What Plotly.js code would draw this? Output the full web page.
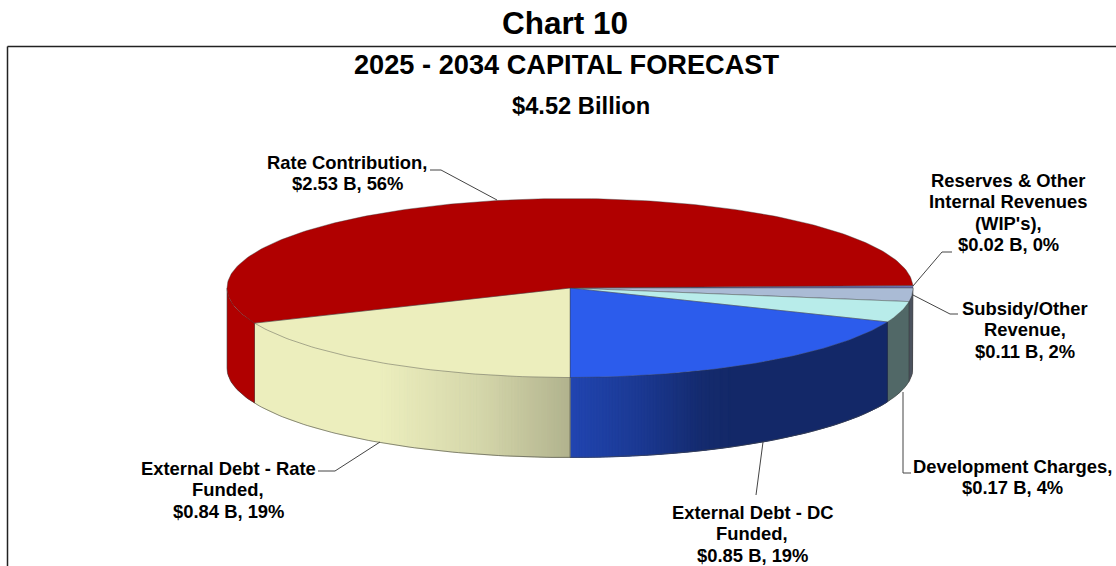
<!DOCTYPE html>
<html>
<head>
<meta charset="utf-8">
<script src="https://cdn.plot.ly/plotly-3.0.1.min.js"></script>
<style>html,body{margin:0;padding:0;background:#fff}#chart{width:1116px;height:566px}</style>
</head>
<body>
<div id="chart"></div>
<script>
// ---- data, clockwise from 3 o'clock ----
const categories = ["Reserves & Other Internal Revenues (WIP's)", "Subsidy/Other Revenue", "Development Charges", "External Debt - DC Funded", "External Debt - Rate Funded", "Rate Contribution"];
const valuesB = [0.02, 0.11, 0.17, 0.85, 0.84, 2.53];
const percentLabels = ["0%", "2%", "4%", "19%", "19%", "56%"];
const sliceColors = ["#6f74b8", "#aabbd5", "#b8ecea", "#2c5cec", "#eceebd", "#b00000"];

// ---- labels and leader lines (pixel layout) ----
const labelLines = [
  ["Reserves & Other", "Internal Revenues", "(WIP's),"],
  ["Subsidy/Other", "Revenue,"],
  ["Development Charges,"],
  ["External Debt - DC", "Funded,"],
  ["External Debt - Rate", "Funded,"],
  ["Rate Contribution,"]
];
const labelX = [1008, 1025, 1012.5, 752, 228, 347];
const labelY = [180, 308, 466, 512, 468, 162];
const leaderX = [[952,942,913],[958,950,913],[911,903,903],[756,763],[318,335,380],[430,441,497]];
const leaderY = [[252,252,286],[314,314,295],[473,473,392],[495,442],[471,471,442],[170,170,200]];

// ---- pie geometry ----
const CX = 570, CY = 288, RX = 343, RY = 89.5, DEPTH = 80, START = -1.6;
const shadeX = [0, 380, 480, 570, 640, 700, 730, 1200];
const shadeF = [1, 1, 0.9, 0.75, 0.62, 0.47, 0.44, 0.44];
const LINE_H = 21.6;

const rad = d => d * Math.PI / 180;
const px = t => CX + RX * Math.cos(rad(t));
const py = t => CY + RY * Math.sin(rad(t));
function shade(x) {
  for (let i = 1; i < shadeX.length; i++) {
    if (x <= shadeX[i]) {
      const k = (x - shadeX[i-1]) / (shadeX[i] - shadeX[i-1]);
      return shadeF[i-1] + k * (shadeF[i] - shadeF[i-1]);
    }
  }
  return 1;
}
function tint(hex, f) {
  const c = [1,3,5].map(i => Math.round(parseInt(hex.substr(i,2),16) * f));
  return `rgb(${c[0]},${c[1]},${c[2]})`;
}

const total = valuesB.reduce((a,b) => a+b, 0);
let cursor = START;
const spans = valuesB.map(v => { const a = cursor; cursor += v / total * 360; return [a, cursor]; });

const traces = [];
const base = {type:'scatter', mode:'lines', hoverinfo:'skip', showlegend:false};

function wallPath(t0, t1) {
  const n = Math.max(1, Math.ceil((t1 - t0) / 1));
  const ts = []; for (let k = 0; k <= n; k++) ts.push(t0 + (t1-t0)*k/n);
  const rev = ts.slice().reverse();
  return {
    x: ts.map(px).concat(rev.map(px), [px(t0)]),
    y: ts.map(py).concat(rev.map(t => py(t)+DEPTH), [py(t0)])
  };
}
function pushWall(t0, t1, col, w) {
  const p = wallPath(t0, t1);
  traces.push(Object.assign({}, base, p, {fill:'toself', fillcolor:col, line:{color:col, width:w}}));
}

// front walls: a base polygon, then merged strips of equal shade
spans.forEach((s, i) => {
  const a = Math.max(s[0], 0), b = Math.min(s[1], 180);
  if (b <= a) return;
  const n = Math.ceil((b - a) / 0.5);
  const runs = [];
  for (let k = 0; k < n; k++) {
    const t0 = a + (b-a)*k/n, t1 = a + (b-a)*(k+1)/n;
    const col = tint(sliceColors[i], shade((px(t0)+px(t1))/2));
    const last = runs[runs.length-1];
    if (last && last.col === col) last.t1 = t1; else runs.push({t0, t1, col});
  }
  pushWall(a, b, runs[Math.floor(runs.length/2)].col, 0);
  runs.forEach(r => pushWall(r.t0, r.t1, r.col, runs.length > 1 ? 0.9 : 0));
});
// seams at the slice boundaries on the wall
spans.forEach(s => {
  const a = s[0];
  if (a <= 0 || a >= 180) return;
  traces.push(Object.assign({}, base, {
    x:[px(a),px(a)], y:[py(a),py(a)+DEPTH], line:{color:'rgba(50,50,50,0.5)',width:1}
  }));
});
// bottom rim and silhouette
const rimT = []; for (let t = 0; t <= 180; t += 1) rimT.push(t);
traces.push(Object.assign({}, base, {
  x:[px(0)].concat(rimT.map(px), [px(180)]),
  y:[py(0)].concat(rimT.map(t => py(t)+DEPTH), [py(180)]),
  line:{color:'rgba(70,70,70,0.6)',width:1}
}));
// top slices
spans.forEach((s, i) => {
  const xs = [CX], ys = [CY];
  const n = Math.max(2, Math.ceil((s[1]-s[0])));
  for (let k = 0; k <= n; k++) { const t = s[0] + (s[1]-s[0])*k/n; xs.push(px(t)); ys.push(py(t)); }
  xs.push(CX); ys.push(CY);
  traces.push(Object.assign({}, base, {
    name:categories[i], x:xs, y:ys, fill:'toself', fillcolor:sliceColors[i],
    line:{color:'rgba(60,60,60,0.5)',width:0.8}
  }));
});
// leader lines
leaderX.forEach((lx, i) => traces.push(Object.assign({}, base, {
  x:lx, y:leaderY[i], line:{color:'#444',width:1}
})));

// text
const FONT = '"Liberation Sans", Arial, sans-serif';
const annotations = [];
const put = (x, y, text, size) => annotations.push({
  xref:'x', yref:'y', x, y, text:'<b>'+text+'</b>', showarrow:false,
  xanchor:'center', yanchor:'middle', font:{family:FONT, size, color:'#000'}
});
put(566.5, 64, '2025 - 2034 CAPITAL FORECAST', 27.2);
put(581, 106, '$4.52 Billion', 23.7);
labelLines.forEach((lines, i) => {
  const all = lines.concat(['$' + valuesB[i].toFixed(2) + ' B, ' + percentLabels[i]]);
  all.forEach((t, j) => put(labelX[i], labelY[i] + j*LINE_H, t, 18.4));
});

const layout = {
  width:1116, height:566, margin:{l:0,r:0,t:0,b:0},
  paper_bgcolor:'#fff', plot_bgcolor:'#fff', showlegend:false,
  title:{text:'<b>Chart 10</b>', x:565/1116, xanchor:'center', y:1-23/566, yanchor:'middle',
         font:{family:FONT,size:31.5,color:'#000'}},
  xaxis:{range:[0,1116], visible:false, fixedrange:true},
  yaxis:{range:[566,0], visible:false, fixedrange:true},
  annotations,
  shapes:[
    {type:'line', xref:'x', yref:'y', x0:7.5, x1:1116, y0:46.5, y1:46.5, line:{color:'#222',width:1.5}},
    {type:'line', xref:'x', yref:'y', x0:7.5, x1:7.5, y0:46.5, y1:566, line:{color:'#222',width:1.5}}
  ]
};
Plotly.newPlot('chart', traces, layout, {displayModeBar:false, staticPlot:true});
</script>
</body>
</html>
